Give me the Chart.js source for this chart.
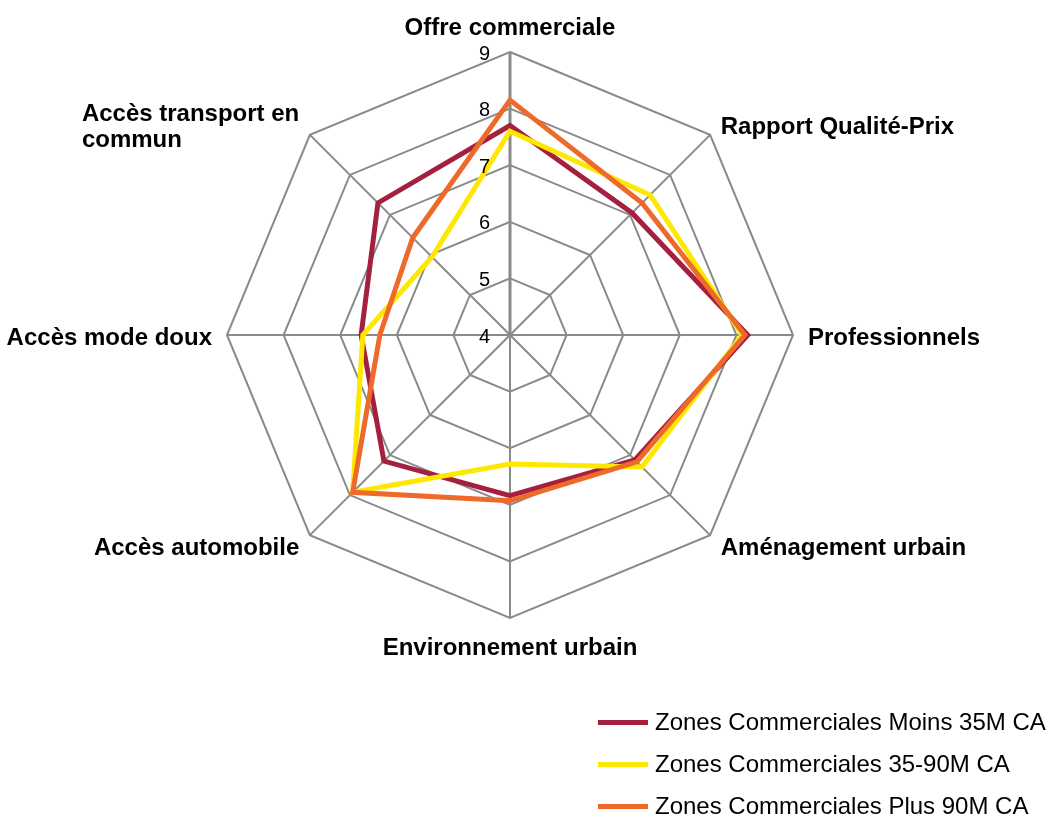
<!DOCTYPE html>
<html lang="fr">
<head>
  <meta charset="UTF-8">
  <title>Zones commerciales - radar</title>
  <script src="https://cdn.jsdelivr.net/npm/chart.js"></script>
  <style>
    body { margin: 0; background: #fff; font-family: "Liberation Sans", Arial, sans-serif; }
    #wrap { position: relative; width: 1049px; height: 816px; }
    #legend { position: absolute; left: 598px; top: 701px; }
    .item { display: flex; align-items: center; height: 42px; font-size: 24px; color: #000; white-space: nowrap; }
    .swatch { width: 50px; height: 5px; margin-right: 7px; }
  </style>
</head>
<body>
  <div id="wrap">
    <canvas id="radar" width="1049" height="816"></canvas>
    <div id="legend"></div>
  </div>
  <script>
    // axes (clockwise from the top)
    const categories = [
      "Offre commerciale",
      "Rapport Qualité-Prix",
      "Professionnels",
      "Aménagement urbain",
      "Environnement urbain",
      "Accès automobile",
      "Accès mode doux",
      ["Accès transport en", "commun"]
    ];
    const tickValues = [4, 5, 6, 7, 8, 9];

    const seriesNames = [
      "Zones Commerciales Moins 35M CA",
      "Zones Commerciales 35-90M CA",
      "Zones Commerciales Plus 90M CA"
    ];
    const moins35 = [7.7, 7.05, 8.2, 7.12, 6.84, 7.15, 6.63, 7.3];
    const de35a90 = [7.6, 7.5, 8.1, 7.3, 6.28, 7.93, 6.6, 5.95];
    const plus90  = [8.15, 7.3, 8.15, 7.17, 6.93, 7.93, 6.3, 6.43];
    const colors = ["#a51f3f", "#ffe800", "#ee6a2a"];

    const FONT = '"Liberation Sans", Arial, sans-serif';

    // draws axis labels + tick numbers using the scale geometry
    const labelsPlugin = {
      id: "radarLabels",
      afterDraw(chart) {
        const scale = chart.scales.r;
        const ctx = chart.ctx;
        ctx.save();
        ctx.fillStyle = "#000";

        // tick numbers, left of the vertical axis
        ctx.font = "20px " + FONT;
        ctx.textAlign = "right";
        ctx.textBaseline = "middle";
        tickValues.forEach(v => {
          const p = scale.getPointPositionForValue(0, v);
          ctx.fillText(String(v), scale.xCenter - 20, p.y + 2);
        });

        // category labels
        ctx.font = "bold 24px " + FONT;
        const lineH = 26;
        categories.forEach((lab, i) => {
          const p = scale.getPointPosition(i, scale.drawingArea + 15);
          const dx = p.x - scale.xCenter;
          const dy = p.y - scale.yCenter;
          const lines = Array.isArray(lab) ? lab : [lab];
          let baseline = "middle";
          if (Math.abs(dx) < 1) baseline = dy < 0 ? "bottom" : "top";
          ctx.textBaseline = baseline;
          const widest = Math.max(...lines.map(l => ctx.measureText(l).width));
          let left;
          if (Math.abs(dx) < 1) left = null;
          else if (dx > 0) left = p.x;
          else left = p.x - widest;
          const y0 = p.y + 3 - (lines.length - 1) * lineH / 2;
          lines.forEach((l, k) => {
            const y = y0 + k * lineH;
            if (left === null) {
              ctx.textAlign = "center";
              ctx.fillText(l, p.x, y);
            } else {
              ctx.textAlign = "left";
              ctx.fillText(l, left, y);
            }
          });
        });
        ctx.restore();
      }
    };

    const seriesData = [moins35, de35a90, plus90];

    new Chart(document.getElementById("radar"), {
      type: "radar",
      data: {
        labels: categories,
        datasets: seriesData.map((d, i) => ({
          label: seriesNames[i],
          data: d,
          borderColor: colors[i],
          backgroundColor: "transparent",
          borderWidth: 5,
          borderJoinStyle: "miter",
          pointRadius: 0,
          pointHoverRadius: 0,
          fill: false,
          tension: 0,
          order: 2 - i
        }))
      },
      options: {
        responsive: false,
        animation: false,
        layout: { padding: { left: 227, top: 52, right: 256, bottom: 198 } },
        plugins: { legend: { display: false }, tooltip: { enabled: false } },
        scales: {
          r: {
            min: 4,
            max: 9,
            ticks: { display: false, stepSize: 1 },
            pointLabels: { display: false },
            grid: { color: "#8a8a8a", lineWidth: 2 },
            angleLines: {
              color: "#8a8a8a",
              lineWidth: (c) => c.index === 0 ? 3 : 2
            }
          }
        }
      },
      plugins: [labelsPlugin]
    });

    // legend, stacked at bottom right
    const legend = document.getElementById("legend");
    seriesNames.forEach((name, i) => {
      const row = document.createElement("div");
      row.className = "item";
      const sw = document.createElement("span");
      sw.className = "swatch";
      sw.style.background = colors[i];
      const txt = document.createElement("span");
      txt.textContent = name;
      row.appendChild(sw);
      row.appendChild(txt);
      legend.appendChild(row);
    });
  </script>
</body>
</html>
